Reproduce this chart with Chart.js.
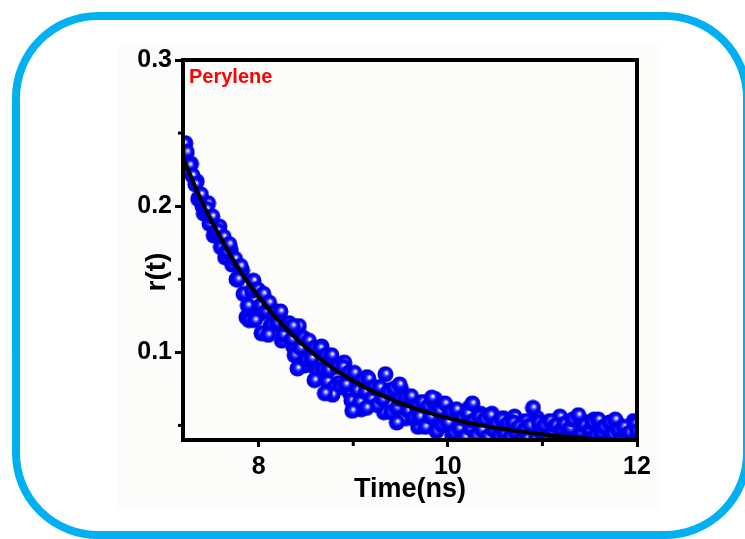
<!DOCTYPE html>
<html><head><meta charset="utf-8">
<script src="https://cdn.jsdelivr.net/npm/chart.js@4.4.1/dist/chart.umd.min.js"></script>
<style>html,body{margin:0;padding:0;background:#fff}#wrap{width:745px;height:539px;position:relative}</style>
</head><body><div id="wrap"><canvas id="c" width="745" height="539"></canvas></div>
<script>
// ---- data ----
const times = [7.21,7.24,7.27,7.30,7.33,7.36,7.39,7.42,7.45,7.48,7.51,7.54,7.57,7.60,7.63,7.66,7.69,7.72,7.75,7.78,
7.81,7.84,7.87,7.90,7.93,7.96,7.99,8.02,8.05,8.08,8.11,8.14,8.17,8.20,8.23,8.26,8.29,8.32,8.35,8.38,
8.41,8.44,8.47,8.50,8.53,8.56,8.59,8.62,8.65,8.68,8.71,8.74,8.77,8.80,8.83,8.86,8.89,8.92,8.95,8.98,
9.01,9.04,9.07,9.10,9.13,9.16,9.19,9.22,9.25,9.28,9.31,9.34,9.37,9.40,9.43,9.46,9.49,9.52,9.55,9.58,
9.61,9.64,9.67,9.70,9.73,9.76,9.79,9.82,9.85,9.88,9.91,9.94,9.97,10.00,10.03,10.06,10.09,10.12,10.15,10.18,
10.21,10.24,10.27,10.30,10.33,10.36,10.39,10.42,10.45,10.48,10.51,10.54,10.57,10.60,10.63,10.66,10.69,10.72,10.75,10.78,
10.81,10.84,10.87,10.90,10.93,10.96,10.99,11.02,11.05,11.08,11.11,11.14,11.17,11.20,11.23,11.26,11.29,11.32,11.35,11.38,
11.41,11.44,11.47,11.50,11.53,11.56,11.59,11.62,11.65,11.68,11.71,11.74,11.77,11.80,11.83,11.86,11.89,11.92,11.95,11.98,12.00,
8.59,8.78,8.99,9.14,9.46,9.49,9.83,10.26,8.36,8.70,8.03,8.10];
const anisotropy = [0.243,0.237,0.228,0.221,0.215,0.205,0.208,0.195,0.198,0.188,0.193,0.182,0.183,0.172,0.179,0.169,0.174,0.160,0.164,0.150,
0.159,0.140,0.124,0.122,0.142,0.122,0.143,0.132,0.140,0.128,0.134,0.119,0.127,0.120,0.128,0.112,0.119,0.120,0.109,0.098,
0.089,0.103,0.110,0.095,0.108,0.096,0.103,0.087,0.103,0.088,0.098,0.088,0.098,0.076,0.090,0.076,0.090,0.078,0.086,0.067,
0.086,0.074,0.066,0.081,0.073,0.082,0.068,0.076,0.064,0.076,0.068,0.085,0.073,0.059,0.075,0.062,0.068,0.055,0.069,0.060,
0.070,0.055,0.063,0.056,0.066,0.049,0.063,0.056,0.066,0.046,0.060,0.050,0.065,0.052,0.059,0.045,0.061,0.048,0.055,0.042,
0.058,0.048,0.053,0.043,0.056,0.047,0.054,0.042,0.057,0.047,0.051,0.042,0.054,0.044,0.051,0.042,0.052,0.045,0.049,0.040,
0.047,0.041,0.050,0.062,0.041,0.052,0.045,0.050,0.040,0.053,0.045,0.050,0.040,0.047,0.051,0.043,0.048,0.054,0.040,0.057,
0.045,0.050,0.040,0.047,0.052,0.043,0.054,0.045,0.049,0.039,0.052,0.044,0.054,0.047,0.040,0.049,0.042,0.045,0.038,0.051,0.046,
0.081,0.071,0.060,0.062,0.052,0.078,0.069,0.065,0.118,0.072,0.113,0.112];
// second, interleaved run of measured points
const times2 = [7.225,7.285,7.345,7.405,7.465,7.525,7.585,7.645,7.705,7.765,7.825,7.885,7.945,8.005,8.065,8.125,8.185,8.245,8.305,8.365,
8.425,8.485,8.545,8.605,8.665,8.725,8.785,8.845,8.905,8.965,9.025,9.085,9.145,9.205,9.265,9.325,9.385,9.445,9.505,9.565,
9.625,9.685,9.745,9.805,9.865,9.925,9.985,10.045,10.105,10.165,10.225,10.285,10.345,10.405,10.465,10.525,10.585,10.645,10.705,10.765,
10.825,10.885,10.945,11.005,11.065,11.125,11.185,11.245,11.305,11.365,11.425,11.485,11.545,11.605,11.665,11.725,11.785,11.845,11.905,11.965];
const anisotropy2 = [0.243,0.229,0.217,0.200,0.202,0.180,0.186,0.165,0.170,0.150,0.156,0.132,0.149,0.126,0.135,0.118,0.128,0.108,0.119,0.104,
0.118,0.091,0.103,0.089,0.104,0.080,0.093,0.079,0.093,0.072,0.082,0.061,0.083,0.067,0.076,0.059,0.074,0.060,0.075,0.055,
0.067,0.049,0.063,0.052,0.068,0.052,0.063,0.043,0.058,0.047,0.062,0.049,0.058,0.044,0.058,0.050,0.055,0.045,0.056,0.049,
0.053,0.046,0.055,0.048,0.052,0.045,0.056,0.047,0.052,0.044,0.053,0.047,0.054,0.044,0.050,0.045,0.052,0.043,0.048,0.053];
const fitTimes = [7.2,7.4,7.6,7.8,8.0,8.2,8.4,8.6,8.8,9.0,9.2,9.4,9.6,9.8,10.0,10.2,10.4,10.6,10.8,11.0,11.2,11.4,11.6,11.8,12.0];
const fitValues = [0.233,0.203,0.178,0.156,0.138,0.1224,0.1092,0.098,0.0885,0.0804,0.0736,0.0678,0.0628,0.0586,0.0551,0.052,0.0495,0.0473,0.0454,0.0439,0.0425,0.0414,0.0404,0.0396,0.0389];
const xTicks = [8,9,10,11,12];
const xTickLabels = ['8','','10','','12'];
const yTicks = [0.05,0.1,0.15,0.2,0.25,0.3];
const yTickLabels = ['','0.1','','0.2','','0.3'];
const sampleName = 'Perylene';
const xTitle = 'Time(ns)';
const yTitle = 'r(t)';

const FONT = '"Liberation Sans", Arial, Helvetica, sans-serif';

function makeSphere(r){
  const c=document.createElement('canvas'); const s=Math.ceil(2*r)+1; c.width=s; c.height=s;
  const g=c.getContext('2d'); const cx=s/2, cy=s/2;
  const grad=g.createRadialGradient(cx+1.3,cy-1.5,0.2,cx,cy,r);
  grad.addColorStop(0,'#ffffff'); grad.addColorStop(0.12,'#c8c8ff'); grad.addColorStop(0.3,'#4040ff');
  grad.addColorStop(0.55,'#0000ff'); grad.addColorStop(1,'#0000d8');
  g.fillStyle=grad; g.beginPath(); g.arc(cx,cy,r,0,Math.PI*2); g.fill(); return c;
}
const sphere = makeSphere(8);

function roundRectPath(ctx,x,y,w,h,r){
  ctx.beginPath(); ctx.moveTo(x+r,y); ctx.lineTo(x+w-r,y); ctx.arcTo(x+w,y,x+w,y+r,r);
  ctx.lineTo(x+w,y+h-r); ctx.arcTo(x+w,y+h,x+w-r,y+h,r); ctx.lineTo(x+r,y+h); ctx.arcTo(x,y+h,x,y+h-r,r);
  ctx.lineTo(x,y+r); ctx.arcTo(x,y,x+r,y,r); ctx.closePath();
}

const decor = {
  id:'decor',
  beforeDraw(chart){
    const ctx=chart.ctx; ctx.save();
    ctx.fillStyle='#fcfcfb'; ctx.fillRect(118,44,542,466);
    ctx.lineWidth=8; ctx.strokeStyle='#00B0F0'; roundRectPath(ctx,16,16,731,519,82); ctx.stroke();
    ctx.restore();
  },
  afterDraw(chart){
    const {ctx, chartArea:a, scales} = chart; ctx.save();
    ctx.strokeStyle='#000'; ctx.lineWidth=4;
    ctx.strokeRect(a.left, a.top, a.right-a.left, a.bottom-a.top);
    ctx.lineWidth=3;
    xTicks.forEach((v,i)=>{ if(!xTickLabels[i]){ const px=scales.x.getPixelForValue(v);
      ctx.beginPath(); ctx.moveTo(px,a.bottom); ctx.lineTo(px,a.bottom+6); ctx.stroke(); }});
    yTicks.forEach((v,i)=>{ if(!yTickLabels[i]){ const py=scales.y.getPixelForValue(v);
      ctx.beginPath(); ctx.moveTo(a.left,py); ctx.lineTo(a.left-5,py); ctx.stroke(); }});
    ctx.fillStyle='#ff0000'; ctx.font='bold 20px '+FONT; ctx.textAlign='left'; ctx.textBaseline='alphabetic';
    ctx.fillText(sampleName, a.left+6, a.top+23);
    ctx.fillStyle='#000'; ctx.font='bold 28px '+FONT; ctx.translate(157,272); ctx.rotate(-Math.PI/2);
    ctx.textAlign='center'; ctx.textBaseline='middle'; ctx.fillText(yTitle,0,0);
    ctx.restore();
  }
};

new Chart(document.getElementById('c'), {
  type:'scatter',
  data:{ datasets:[
    { data: fitTimes.map((t,i)=>({x:t,y:fitValues[i]})), showLine:true, borderColor:'#000', borderWidth:4,
      pointRadius:0, cubicInterpolationMode:'monotone', fill:false, clip:2, order:0 },
    { data: times.map((t,i)=>({x:t,y:anisotropy[i]})), pointStyle: sphere, pointRadius:8, clip:0, order:1 },
    { data: times2.map((t,i)=>({x:t,y:anisotropy2[i]})), pointStyle: sphere, pointRadius:8, clip:0, order:2 }
  ]},
  options:{
    responsive:false, devicePixelRatio:1, animation:false,
    layout:{ padding:{left:0,right:108,top:60,bottom:33} },
    plugins:{ legend:{display:false}, tooltip:{enabled:false} },
    scales:{
      x:{ type:'linear', min:7.2, max:12,
        afterBuildTicks:s=>{ s.ticks = xTicks.map(v=>({value:v})); },
        afterFit:s=>{ s.height=66; },
        border:{display:false},
        grid:{ drawOnChartArea:false, drawTicks:true, tickLength:7, tickWidth:3, lineWidth:3,
          tickColor: c => (c.tick && xTickLabels[xTicks.indexOf(c.tick.value)]) ? '#000' : 'rgba(0,0,0,0)' },
        ticks:{ autoSkip:false, maxRotation:0, padding:5, color:'#000', font:{family:FONT,size:25,weight:'bold'},
          callback:(v)=>{ const i=xTicks.indexOf(v); return i>=0 ? xTickLabels[i] : ''; } },
        title:{ display:true, text:xTitle, color:'#000', font:{family:FONT,size:27,weight:'bold'}, padding:{top:0,bottom:0} }
      },
      y:{ type:'linear', min:0.04, max:0.3,
        afterBuildTicks:s=>{ s.ticks = yTicks.map(v=>({value:v})); },
        afterFit:s=>{ s.width=183; },
        border:{display:false},
        grid:{ drawOnChartArea:false, drawTicks:true, tickLength:8, tickWidth:3, lineWidth:3,
          tickColor: c => (c.tick && yTickLabels[yTicks.indexOf(c.tick.value)]) ? '#000' : 'rgba(0,0,0,0)' },
        ticks:{ autoSkip:false, padding:3, color:'#000', font:{family:FONT,size:25,weight:'bold'},
          callback:(v)=>{ const i=yTicks.indexOf(v); return i>=0 ? yTickLabels[i] : ''; } },
        title:{ display:false }
      }
    }
  },
  plugins:[decor]
});
</script></body></html>
